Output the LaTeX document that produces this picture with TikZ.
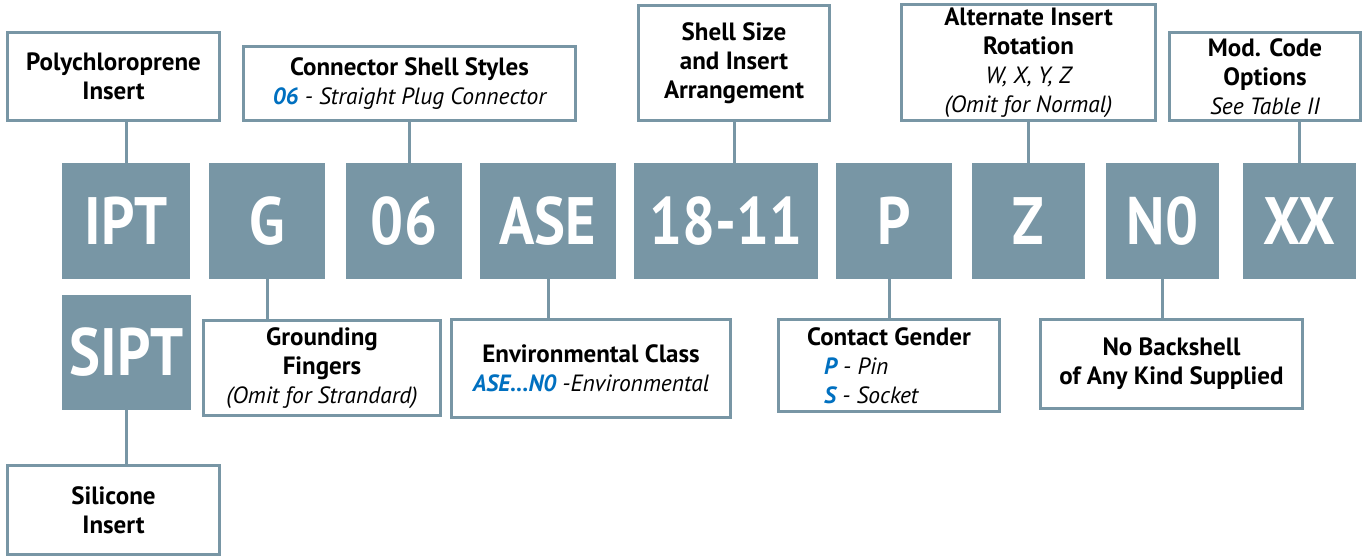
\documentclass[tikz,border=0pt]{standalone}
\usepackage{fontspec}
\setmainfont{PT Sans}
\newfontfamily\codefont[FakeStretch=0.87]{PT Sans}
\pgfdeclarelayer{bg}
\pgfsetlayers{bg,main}
\definecolor{slate}{RGB}{120,150,165}
\definecolor{codeblue}{RGB}{0,112,192}
\newcommand{\optline}[1]{{\fontsize{23.5}{29}\selectfont\mdseries\itshape #1}}
\newcommand{\optkey}[1]{{\itshape\color{codeblue}#1}}
\tikzset{
    every node/.style={inner sep=0mm, outer sep=0mm},
    code/.style={fill=slate, text=white, minimum height=116pt, font=\codefont\fontsize{67}{67}\selectfont\bfseries},
    note/.style={draw=slate, line width=3pt, fill=white, align=center, font=\fontsize{25}{29}\selectfont\bfseries},
    wire/.style={draw=slate, line width=3pt}
}

\begin{document}
\begin{tikzpicture}
        \useasboundingbox (0pt,0pt) rectangle (1364pt,-558pt);
        \node (c0) [code, minimum width=128pt] at (126.0pt, -221.0pt) {IPT};
        \node (c1) [code, minimum width=116pt] at (267.0pt, -221.0pt) {G};
        \node (c2) [code, minimum width=116pt] at (404.0pt, -221.0pt) {06};
        \node (c3) [code, minimum width=136pt] at (548.0pt, -221.0pt) {ASE};
        \node (c4) [code, minimum width=184pt] at (726.0pt, -221.0pt) {18-11};
        \node (c5) [code, minimum width=116pt] at (894.0pt, -221.0pt) {P};
        \node (c6) [code, minimum width=113pt] at (1028.5pt, -221.0pt) {Z};
        \node (c7) [code, minimum width=113pt] at (1162.5pt, -221.0pt) {N0};
        \node (c8) [code, minimum width=113pt] at (1299.5pt, -221.0pt) {XX};
        \node (c9) [code, minimum width=129pt, minimum height=115pt] at (126.5pt, -352.5pt) {SIPT};
        \node (l0) [note, minimum width=212pt, minimum height=88pt] at (113.5pt, -76.5pt) {Polychloroprene\\Insert};
        \node (l1) [note, minimum width=332pt, minimum height=74pt] at (409.5pt, -83.5pt) {Connector Shell Styles\\\optline{\optkey{\bfseries 06} - Straight Plug Connector}};
        \node (l2) [note, minimum width=191pt, minimum height=115pt] at (734.0pt, -63.0pt) {Shell Size\\and Insert\\Arrangement};
        \node (l3) [note, minimum width=254pt, minimum height=116pt] at (1028.5pt, -62.5pt) {Alternate Insert\\Rotation\\\optline{W, X, Y, Z}\\\optline{(Omit for Normal)}};
        \node (l4) [note, minimum width=191pt, minimum height=88pt] at (1265.0pt, -76.5pt) {Mod. Code\\Options\\\optline{See Table II}};
        \node (l5) [note, minimum width=237pt, minimum height=95pt] at (322.0pt, -368.0pt) {Grounding\\Fingers\\\optline{(Omit for Strandard)}};
        \node (l6) [note, minimum width=279pt, minimum height=98pt] at (591.0pt, -368.5pt) {Environmental Class\\\optline{\optkey{\bfseries ASE...N0} -Environmental}};
        \node (l7) [note, minimum width=221pt, minimum height=92pt] at (889.0pt, -365.5pt) {Contact Gender\\\makebox[130pt][l]{\optline{\optkey{\bfseries P} - Pin}}\\\makebox[130pt][l]{\optline{\optkey{\bfseries S} - Socket}}};
        \node (l8) [note, minimum width=262pt, minimum height=89pt] at (1171.5pt, -364.0pt) {No Backshell\\of Any Kind Supplied};
        \node (l9) [note, minimum width=212pt, minimum height=89pt] at (113.5pt, -510.0pt) {Silicone\\Insert};
        \begin{pgfonlayer}{bg}
                \draw (c0.north) edge [wire] (c0.north |- l0.south);
                \draw (l1.south) edge [wire] (l1.south |- c2.north);
                \draw (l2.south) edge [wire] (l2.south |- c4.north);
                \draw (l3.south) edge [wire] (l3.south |- c6.north);
                \draw (c8.north) edge [wire] (c8.north |- l4.south);
                \draw (c1.south) edge [wire] (c1.south |- l5.north);
                \draw (c3.south) edge [wire] (c3.south |- l6.north);
                \draw (l7.north) edge [wire] (l7.north |- c5.south);
                \draw (c7.south) edge [wire] (c7.south |- l8.north);
                \draw (c9.south) edge [wire] (c9.south |- l9.north);
        \end{pgfonlayer}
\end{tikzpicture}
\end{document}
